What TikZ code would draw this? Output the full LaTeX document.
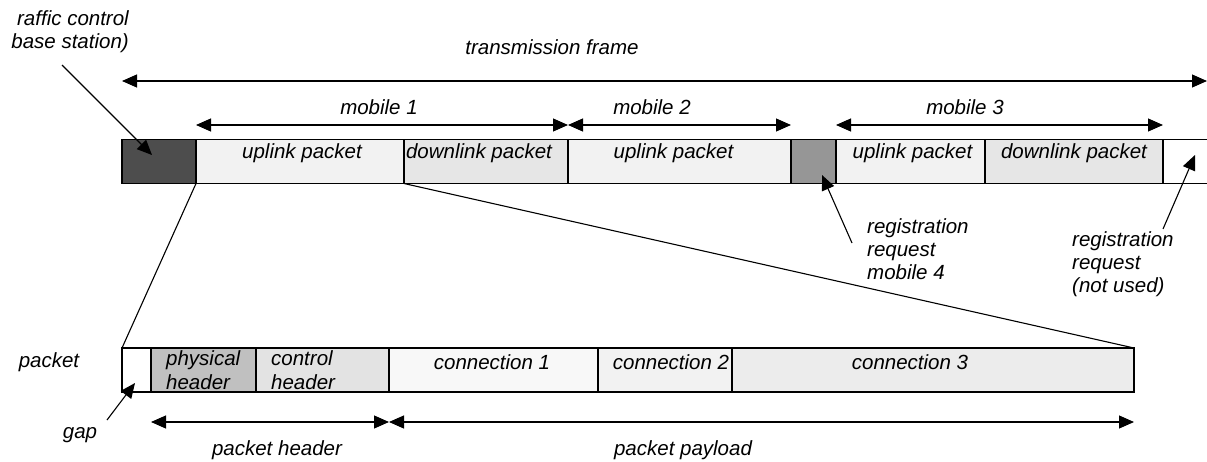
\documentclass[tikz,border=0pt]{standalone}
\usepackage{fontspec}
\setmainfont{Liberation Sans}
\usetikzlibrary{arrows.meta,calc}
\definecolor{cTC}{HTML}{4D4D4D}
\definecolor{cUp}{HTML}{F2F2F2}
\definecolor{cDown}{HTML}{E6E6E6}
\definecolor{cReg}{HTML}{969696}
\definecolor{cPhy}{HTML}{C0C0C0}
\definecolor{cCtl}{HTML}{E3E3E3}
\definecolor{cC1}{HTML}{F8F8F8}
\definecolor{cC2}{HTML}{F2F2F2}
\definecolor{cC3}{HTML}{ECECEC}
\begin{document}
\begin{tikzpicture}[x=1pt,y=-1pt,
 box/.style={draw, line width=1.1pt, inner sep=0pt, outer sep=0pt, anchor=north west, minimum height=44pt},
 txt/.style={font=\fontsize{20.5}{23}\selectfont\itshape, inner sep=0pt},
 tip/.style={line width=1.1pt, -{Triangle[length=15pt,width=13pt]}},
 dim/.style={line width=1.1pt, {Triangle[length=15pt,width=13pt]}-{Triangle[length=15pt,width=13pt]}},
 thin/.style={line width=1.1pt}
]
\useasboundingbox (0,0) rectangle (1207,461);
% top frame
\node[box, fill=cTC,   minimum width=74pt]  (tc) at (122,139.5) {};
\node[box, fill=cUp,   minimum width=208pt] (u1) at (196,139.5) {};
\node[box, fill=cDown, minimum width=164pt] (d1) at (404,139.5) {};
\node[box, fill=cUp,   minimum width=223pt] (u2) at (568,139.5) {};
\node[box, fill=cReg,  minimum width=45pt]  (r4) at (791,139.5) {};
\node[box, fill=cUp,   minimum width=149pt] (u3) at (836,139.5) {};
\node[box, fill=cDown, minimum width=178pt] (d3) at (985,139.5) {};
\coordinate (eN) at (1207,139.5);
\coordinate (eS) at (1207,183.5);
\draw[thin] (d3.north east) -- (eN);
\draw[thin] (d3.south east) -- (eS);
\node[txt] (tu1) at ($(u1.north)+(2,14)$) {uplink packet};
\node[txt] (td1) at ($(d1.north)+(-7,14)$) {downlink packet};
\node[txt] (tu2) at ($(u2.north)+(-6,14)$) {uplink packet};
\node[txt] (tu3) at ($(u3.north)+(2,14)$) {uplink packet};
\node[txt] (td3) at ($(d3.north)+(0,14)$) {downlink packet};
% top dimension arrows
\coordinate (trow) at (0,81);
\coordinate (mrow) at (0,125);
\coordinate (fend) at (1207,81);
\draw[dim] (tc.north west |- trow) -- (fend);
\node[txt] (ltf) at (552,47) {transmission frame};
\draw[dim] (u1.north west |- mrow) -- (d1.north east |- mrow);
\draw[dim] (u2.north west |- mrow) -- (u2.north east |- mrow);
\draw[dim] (u3.north west |- mrow) -- (d3.north east |- mrow);
\node[txt] (lm1) at (379,107) {mobile 1};
\node[txt] (lm2) at (652,107) {mobile 2};
\node[txt] (lm3) at (965,107) {mobile 3};
% labels with pointers
\node[txt, align=right, anchor=east] (ltc) at (129,31.5) {raffic control\\base station)};
\coordinate (ptcA) at (62,65);
\coordinate (ptcB) at (152,155);
\draw[tip] (ptcA) -- (ptcB);
\node[txt, align=left, anchor=west] (lr4) at (867,249) {registration\\request\\mobile 4};
\coordinate (pr4A) at (852,243);
\coordinate (pr4B) at (822,175);
\draw[tip] (pr4A) -- (pr4B);
\node[txt, align=left, anchor=west] (lnu) at (1072,264) {registration\\request\\(not used)};
\coordinate (pnuA) at (1163,229);
\coordinate (pnuB) at (1195,155);
\draw[tip] (pnuA) -- (pnuB);
% lower packet
\node[box, fill=white, minimum width=29pt]  (gap) at (122,348) {};
\node[box, fill=cPhy, minimum width=105pt] (ph) at (151,348) {};
\node[box, fill=cCtl, minimum width=133pt] (ch) at (256,348) {};
\node[box, fill=cC1,  minimum width=209pt] (c1) at (389,348) {};
\node[box, fill=cC2,  minimum width=134pt] (c2) at (598,348) {};
\node[box, fill=cC3,  minimum width=402pt] (c3) at (732,348) {};
\node[txt, align=left, anchor=west, font=\fontsize{20.5}{24}\selectfont\itshape] (tph) at (166,370) {physical\\header};
\node[txt, align=left, anchor=west, font=\fontsize{20.5}{24}\selectfont\itshape] (tch) at (271,370) {control\\header};
\node[txt] (tc1) at (492,362) {connection 1};
\node[txt] (tc2) at (671,362) {connection 2};
\node[txt] (tc3) at (910,362) {connection 3};
% zoom lines
\draw[thin] (u1.south west) -- (gap.north west);
\draw[thin] (d1.south west) -- (c3.north east);
% lower labels
\node[txt] (lpk) at (49,362) {packet};
\node[txt] (lgap) at (80,435) {gap};
\coordinate (pgA) at (107,420);
\coordinate (pgB) at (135,383);
\draw[tip] (pgA) -- (pgB);
\coordinate (hrow) at (0,422);
\draw[dim] (ph.south west |- hrow) -- (ch.south east |- hrow);
\draw[dim] (c1.south west |- hrow) -- (c3.south east |- hrow);
\node[txt] (lph) at (277,450) {packet header};
\node[txt] (lpp) at (683,450) {packet payload};
\end{tikzpicture}
\end{document}
